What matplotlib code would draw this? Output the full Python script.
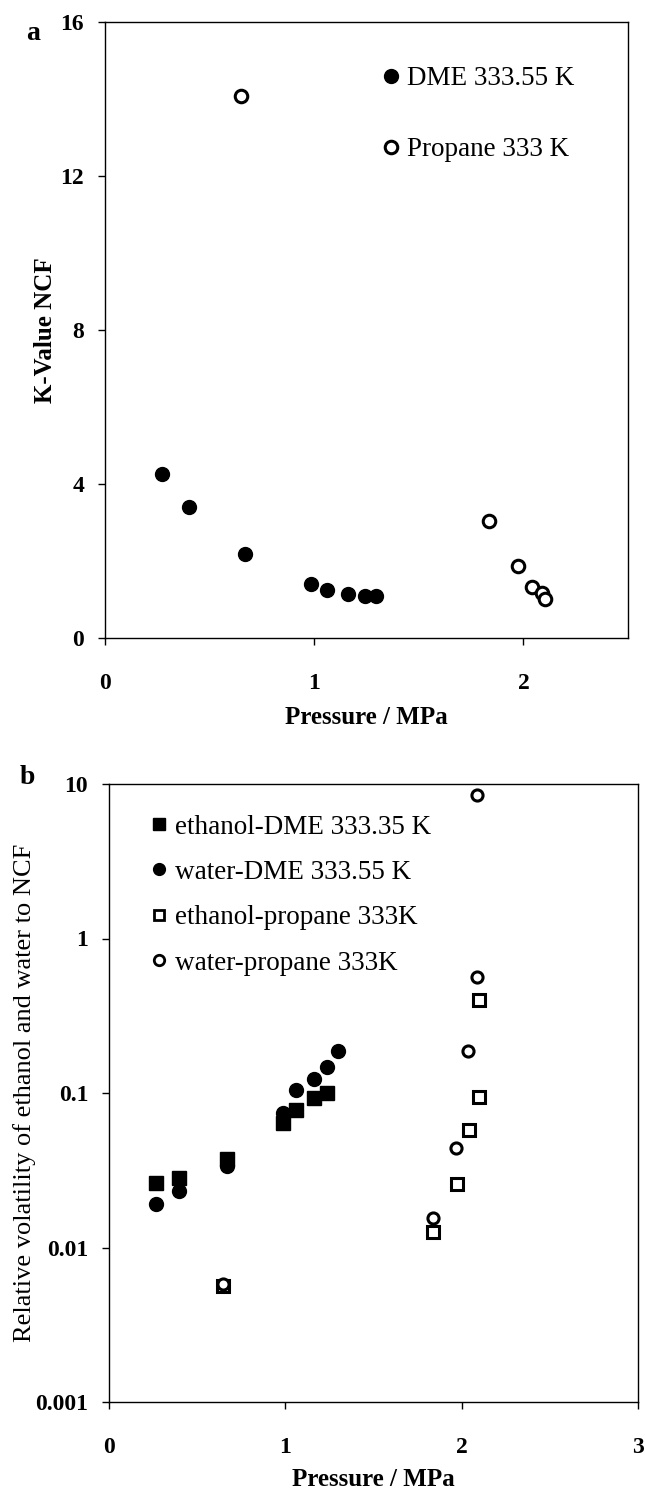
import numpy as np
import matplotlib
matplotlib.use("Agg")
import matplotlib.pyplot as plt
from matplotlib.lines import Line2D

plt.rcParams['font.family'] = ['Liberation Serif', 'DejaVu Serif']

# panel a: K-value of NCF
dme_p = [0.271, 0.401, 0.670, 0.986, 1.061, 1.162, 1.241, 1.294]
dme_k = [4.27, 3.39, 2.18, 1.39, 1.25, 1.14, 1.09, 1.08]
prop_p = [0.652, 1.834, 1.972, 2.043, 2.091, 2.101]
prop_k = [14.09, 3.04, 1.87, 1.32, 1.16, 1.02]

# panel b: relative volatility
eth_dme_p = [0.265, 0.398, 0.667, 0.984, 1.059, 1.162, 1.239]
eth_dme_a = [0.0263, 0.0283, 0.0375, 0.0636, 0.0774, 0.0934, 0.0993]
wat_dme_p = [0.265, 0.398, 0.667, 0.984, 1.059, 1.162, 1.239, 1.297]
wat_dme_a = [0.0190, 0.0231, 0.0337, 0.0740, 0.105, 0.123, 0.147, 0.188]
eth_prop_p = [0.649, 1.838, 1.972, 2.042, 2.096, 2.096]
eth_prop_a = [0.0056, 0.0126, 0.0259, 0.058, 0.094, 0.40]
wat_prop_p = [0.649, 1.838, 1.967, 2.037, 2.089, 2.089]
wat_prop_a = [0.0058, 0.0156, 0.044, 0.186, 0.56, 8.47]

W, H = 645, 1493
fig = plt.figure(figsize=(W / 100, H / 100), dpi=100)

leg_font = {'family': 'Liberation Serif', 'size': 19.5}


def style_axes(ax):
    for s in ax.spines.values():
        s.set_linewidth(1.0)
    ax.tick_params(direction='out', length=5, width=1)
    ax.tick_params(axis='x', pad=20)
    ax.tick_params(axis='y', pad=10)
    ax.minorticks_off()
    for lab in ax.get_xticklabels() + ax.get_yticklabels():
        lab.set_fontsize(17)
        lab.set_fontweight('bold')


# ---- panel a ----
ax1 = fig.add_axes([105 / W, 1 - 638 / H, 523 / W, 616 / H])
ax1.plot(dme_p, dme_k, 'o', color='black', ms=10, label='DME 333.55 K')
ax1.plot(prop_p, prop_k, 'o', mfc='white', mec='black', mew=2.2, ms=9,
         label='Propane 333 K')
ax1.set_xlim(0, 2.5)
ax1.set_ylim(0, 16)
ax1.set_xticks([0, 1, 2])
ax1.set_yticks([0, 4, 8, 12, 16])
style_axes(ax1)
ax1.set_xlabel('Pressure / MPa', fontsize=18, fontweight='bold', va='center')
ax1.xaxis.set_label_coords(0.5, -(718 - 638) / 616)
ax1.set_ylabel('K-Value NCF', fontsize=18, fontweight='bold', va='center')
ax1.yaxis.set_label_coords((45 - 105) / 523, 0.5)
ax1.legend(loc='upper left', bbox_to_anchor=(0.51, 0.946), frameon=False,
           prop=leg_font, handlelength=0.6, handletextpad=0.3,
           labelspacing=1.7, borderaxespad=0)
fig.text(33 / W, 1 - 33 / H, 'a', fontsize=20, fontweight='bold',
         ha='center', va='center')

# ---- panel b ----
ax2 = fig.add_axes([109 / W, 1 - 1402 / H, 529 / W, 618 / H])
ax2.set_yscale('log')
ax2.plot(eth_dme_p, eth_dme_a, 's', color='black', ms=9.5,
         label='ethanol-DME 333.35 K')
ax2.plot(wat_dme_p, wat_dme_a, 'o', color='black', ms=10,
         label='water-DME 333.55 K')
ax2.plot(eth_prop_p, eth_prop_a, 's', mfc='white', mec='black', mew=2.2,
         ms=8, label='ethanol-propane 333K')
ax2.plot(wat_prop_p, wat_prop_a, 'o', mfc='white', mec='black', mew=2.2,
         ms=8, label='water-propane 333K')
ax2.set_xlim(0, 3)
ax2.set_ylim(0.001, 10)
ax2.set_xticks([0, 1, 2, 3])
ax2.set_yticks([0.001, 0.01, 0.1, 1, 10])
ax2.set_yticklabels(['0.001', '0.01', '0.1', '1', '10'])
style_axes(ax2)
ax2.set_xlabel('Pressure / MPa', fontsize=18, fontweight='bold', va='center')
ax2.xaxis.set_label_coords(0.5, -(1479 - 1402) / 618)
ax2.set_ylabel('Relative volatility of ethanol and water to NCF', fontsize=19,
               va='center')
ax2.yaxis.set_label_coords((25 - 109) / 529, 0.5)
handles = [
    Line2D([], [], ls='none', marker='s', color='black', ms=8.5),
    Line2D([], [], ls='none', marker='o', color='black', ms=8.5),
    Line2D([], [], ls='none', marker='s', mfc='white', mec='black', mew=2, ms=7.5),
    Line2D([], [], ls='none', marker='o', mfc='white', mec='black', mew=2, ms=7.5),
]
labels = [h.get_label() for h in ax2.get_lines()]
ax2.legend(handles, labels, loc='upper left', bbox_to_anchor=(0.059, 0.968),
           frameon=False, prop=leg_font, handlelength=0.6, handletextpad=0.3,
           labelspacing=0.75, borderaxespad=0)
fig.text(27 / W, 1 - 778 / H, 'b', fontsize=20, fontweight='bold',
         ha='center', va='center')

fig.savefig('out.png', dpi=100)
